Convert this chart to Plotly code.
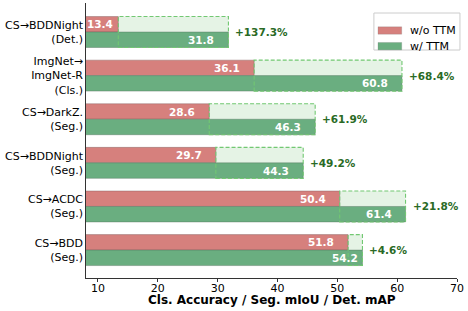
import plotly.graph_objects as go

# Data (top to bottom)
categories = ["CS→BDDNight<br>(Det.)", "ImgNet→<br>ImgNet-R<br>(Cls.)", "CS→DarkZ.<br>(Seg.)",
              "CS→BDDNight<br>(Seg.)", "CS→ACDC<br>(Seg.)", "CS→BDD<br>(Seg.)"]
wo_ttm = [13.4, 36.1, 28.6, 29.7, 50.4, 51.8]
w_ttm = [31.8, 60.8, 46.3, 44.3, 61.4, 54.2]
gains = ["+137.3%", "+68.4%", "+61.9%", "+49.2%", "+21.8%", "+4.6%"]
x_ticks = [10, 20, 30, 40, 50, 60, 70]
x_title = "Cls. Accuracy / Seg. mIoU / Det. mAP"
series_names = ["w/o TTM", "w/ TTM"]

# styling
RED = "#d6807d"
GREEN = "#6aae80"
LIGHT = "#e5f3e5"
DASH = "#72c872"
DARKGREEN = "#2a6a25"
n = len(categories)
pos = [n - 1 - i for i in range(n)]
bw = 0.355
off = bw / 2
# label pixel shifts (style only)
red_shift = [-3, -12, -12, -12, -12, -12]
green_shift = [-12, -12, -12, -12, -12, -2]

fig = go.Figure()
fig.add_trace(go.Bar(
    name=series_names[0], orientation="h", x=wo_ttm, y=[p + off for p in pos], width=bw,
    marker=dict(color=RED, line=dict(color="rgba(120,90,90,0.5)", width=0.8)),
    showlegend=False, hoverinfo="skip",
))
fig.add_trace(go.Bar(
    name=series_names[1], orientation="h", x=w_ttm, y=[p - off for p in pos], width=bw,
    marker=dict(color=GREEN, line=dict(color="rgba(80,110,90,0.5)", width=0.8)),
    showlegend=False, hoverinfo="skip",
))

for i in range(n):
    p = pos[i]
    fig.add_shape(type="rect", x0=wo_ttm[i], x1=w_ttm[i], y0=p - bw, y1=p + bw,
                  fillcolor=LIGHT, line=dict(width=0), layer="below")
    fig.add_shape(type="rect", x0=wo_ttm[i], x1=w_ttm[i], y0=p - bw, y1=p + bw,
                  fillcolor="rgba(0,0,0,0)", line=dict(color=DASH, width=1.1, dash="4px,2px"),
                  layer="above")
    fig.add_annotation(x=wo_ttm[i], y=p + off, text=f"<b>{wo_ttm[i]}</b>", showarrow=False,
                       xanchor="right", xshift=red_shift[i],
                       font=dict(family="DejaVu Sans", size=10.5, color="white"))
    fig.add_annotation(x=w_ttm[i], y=p - off, text=f"<b>{w_ttm[i]}</b>", showarrow=False,
                       xanchor="right", xshift=green_shift[i],
                       font=dict(family="DejaVu Sans", size=10.5, color="white"))
    fig.add_annotation(x=w_ttm[i], y=p, text=f"<b>{gains[i]}</b>", showarrow=False,
                       xanchor="left", xshift=5,
                       font=dict(family="DejaVu Sans", size=10.5, color=DARKGREEN))

# x-axis title
fig.add_annotation(xref="paper", yref="paper", x=0.5, y=0, yshift=-22, yanchor="middle",
                   text=f"<b>{x_title}</b>", showarrow=False,
                   font=dict(family="DejaVu Sans", size=12, color="black"))

# custom legend (matplotlib style) in paper coordinates
fig.add_shape(type="rect", xref="paper", yref="paper", x0=0.776, x1=1.008, y0=0.829, y1=0.9636,
              fillcolor="white", line=dict(color="#cccccc", width=1), layer="above")
legend_colors = [RED, GREEN]
legend_rows = [0.9, 0.843]
for name, col, yc in zip(series_names, legend_colors, legend_rows):
    fig.add_shape(type="rect", xref="paper", yref="paper", x0=0.787, x1=0.851,
                  y0=yc - 0.0135, y1=yc + 0.0135, fillcolor=col,
                  line=dict(color="rgba(120,120,120,0.4)", width=0.6), layer="above")
    fig.add_annotation(xref="paper", yref="paper", x=0.868, y=yc, xanchor="left",
                       yanchor="middle", text=name, showarrow=False,
                       font=dict(family="DejaVu Sans", size=11, color="black"))

fig.update_layout(
    width=468, height=311,
    autosize=False,
    margin=dict(l=86, r=11, t=3, b=33, autoexpand=False),
    plot_bgcolor="white", paper_bgcolor="white",
    barmode="overlay",
    font=dict(family="DejaVu Sans", size=11, color="black"),
    showlegend=False,
    xaxis=dict(range=[8, 70], tickvals=x_ticks, showgrid=False, zeroline=False,
               showline=True, linecolor="black", linewidth=0.8, automargin=False,
               ticks="outside", ticklen=3.5, tickcolor="black", tickwidth=0.8,
               tickfont=dict(size=11), ticklabelstandoff=-4),
    yaxis=dict(range=[-0.64, n - 1 + 0.665], tickvals=pos, ticktext=categories,
               showgrid=False, zeroline=False, showline=True, linecolor="black",
               linewidth=0.8, ticks="", ticklen=0, tickfont=dict(size=11),
               automargin=False),
)

fig.write_html("out.html", config={"displayModeBar": False, "staticPlot": True},
               post_script="document.body.style.margin='0';")
